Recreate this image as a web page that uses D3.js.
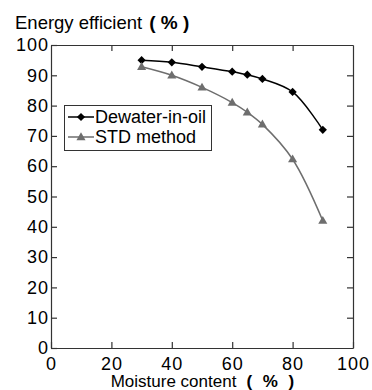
<!DOCTYPE html>
<html>
<head>
<meta charset="utf-8">
<script src="https://cdn.jsdelivr.net/npm/d3@7"></script>
<style>
  body { margin: 0; background: #fff; }
  svg { font-family: "Liberation Sans", Arial, sans-serif; }
</style>
</head>
<body>
<svg id="chart" width="372" height="390"></svg>
<script>
const moisture = [30, 40, 50, 60, 65, 70, 80, 90];
const dewaterInOil = [95, 94.3, 92.8, 91.2, 90.2, 88.8, 84.5, 72];
const stdMethod = [92.8, 90, 86, 81, 77.8, 73.8, 62.3, 42];
const xTicks = [0, 20, 40, 60, 80, 100];
const yTicks = [0, 10, 20, 30, 40, 50, 60, 70, 80, 90, 100];

const svg = d3.select("#chart");
const axisColor = "#333";

const x = d3.scaleLinear().domain([0, 100]).range([51, 353]);
const y = d3.scaleLinear().domain([0, 100]).range([348, 45]);

const styleAxis = (g) => {
  g.select(".domain").attr("stroke", axisColor).attr("stroke-width", 1.2);
  g.selectAll(".tick line").attr("stroke", axisColor).attr("stroke-width", 1.2);
  g.selectAll(".tick text")
    .attr("fill", "#000")
    .style("font-size", "18px")
    .style("letter-spacing", "1px");
};

// bottom axis with labels
svg.append("g")
  .attr("transform", `translate(0,${y(0)})`)
  .call(d3.axisBottom(x).tickValues(xTicks).tickSizeInner(-6).tickSizeOuter(0).tickPadding(9))
  .call(styleAxis)
  .call(g => g.attr("font-family", null).attr("font-size", null));

// left axis with labels
svg.append("g")
  .attr("transform", `translate(${x(0)},0)`)
  .call(d3.axisLeft(y).tickValues(yTicks).tickSizeInner(-6).tickSizeOuter(0).tickPadding(2))
  .call(styleAxis)
  .call(g => g.attr("font-family", null).attr("font-size", null));

// mirrored top / right axes, no labels
svg.append("g")
  .attr("transform", `translate(0,${y(100)})`)
  .call(d3.axisTop(x).tickValues(xTicks.slice(1, -1)).tickSizeInner(-6).tickSizeOuter(0).tickFormat(""))
  .call(styleAxis);

svg.append("g")
  .attr("transform", `translate(${x(100)},0)`)
  .call(d3.axisRight(y).tickValues(yTicks.slice(1, -1)).tickSizeInner(-6).tickSizeOuter(0).tickFormat(""))
  .call(styleAxis);

const line = d3.line()
  .x(d => x(d[0]))
  .y(d => y(d[1]))
  .curve(d3.curveCatmullRom.alpha(0.5));

const series = [
  { name: "Dewater-in-oil", values: dewaterInOil, color: "#000", marker: "diamond" },
  { name: "STD method", values: stdMethod, color: "#6e6e6e", marker: "triangle" }
];

const markerPath = (type) => type === "diamond"
  ? d3.symbol().type(d3.symbolSquare).size(34)()
  : d3.symbol().type(d3.symbolTriangle).size(36)();

const markerTransform = (type, cx, cy) => type === "diamond"
  ? `translate(${cx},${cy}) rotate(45)`
  : `translate(${cx},${cy + 0.5})`;

series.forEach(s => {
  const pts = moisture.map((m, i) => [m, s.values[i]]);
  svg.append("path")
    .datum(pts)
    .attr("fill", "none")
    .attr("stroke", s.color)
    .attr("stroke-width", 1.5)
    .attr("d", line);

  svg.append("g")
    .selectAll("path")
    .data(pts)
    .join("path")
    .attr("d", markerPath(s.marker))
    .attr("transform", d => markerTransform(s.marker, x(d[0]), y(d[1])))
    .attr("fill", s.color);
});

// legend
const legend = svg.append("g");
legend.append("rect")
  .attr("x", 64.5).attr("y", 105.5)
  .attr("width", 147).attr("height", 45)
  .attr("fill", "#fff")
  .attr("stroke", axisColor)
  .attr("stroke-width", 1);

series.forEach((s, i) => {
  const ly = 117 + i * 20;
  legend.append("line")
    .attr("x1", 68).attr("x2", 94)
    .attr("y1", ly).attr("y2", ly)
    .attr("stroke", s.color)
    .attr("stroke-width", 1.5);
  legend.append("path")
    .attr("d", markerPath(s.marker))
    .attr("transform", markerTransform(s.marker, 81, ly))
    .attr("fill", s.color);
  legend.append("text")
    .attr("x", 95)
    .attr("y", ly)
    .attr("dy", "0.36em")
    .style("font-size", "18px")
    .text(s.name);
});

// axis titles
const yTitle = svg.append("text")
  .attr("x", 15)
  .attr("y", 29)
  .style("font-size", "18.5px")
  .text("Energy efficient");
yTitle.append("tspan")
  .attr("dx", 7)
  .style("font-weight", "bold")
  .style("font-size", "19px")
  .style("white-space", "pre")
  .text("( % )");

const xTitle = svg.append("text")
  .attr("x", 204)
  .attr("y", 387)
  .attr("text-anchor", "middle")
  .style("font-size", "17px")
  .text("Moisture content");
xTitle.append("tspan")
  .attr("dx", 10)
  .style("font-weight", "bold")
  .style("font-size", "17px")
  .style("letter-spacing", "3px")
  .style("white-space", "pre")
  .text("( % )");
</script>
</body>
</html>
